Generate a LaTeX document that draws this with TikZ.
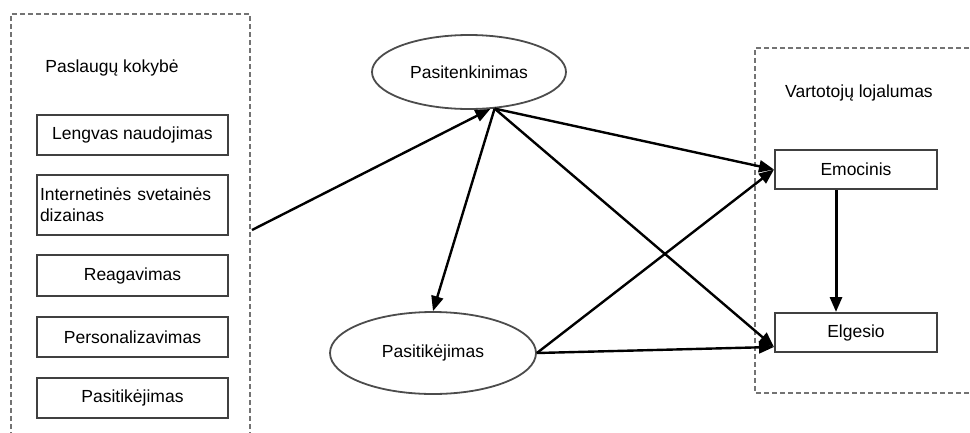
\documentclass[tikz,border=0pt]{standalone}
\usepackage{fontspec}
\setmainfont{Liberation Sans}
\usetikzlibrary{arrows.meta,shapes.geometric}

\begin{document}
\begin{tikzpicture}[x=1pt,y=-1pt,>={Triangle[length=15pt,width=12pt]},
  font=\fontsize{17.5}{21}\selectfont,
  item/.style={draw=black!75,line width=2pt,minimum width=191pt,minimum height=40pt,inner sep=2pt},
  oval/.style={ellipse,draw=black!70,line width=1.8pt,inner sep=0pt},
  frame/.style={draw=black!55,line width=1.4pt,dash pattern=on 5pt off 3pt},
  link/.style={->,line width=2.4pt}]
  \useasboundingbox (0,0) rectangle (970,432);
  \draw[frame] (11,445) -- (11,14) -- (250,14) -- (250,445);
  \draw[frame] (985,48) -- (755,48) -- (755,393) -- (985,393);
  \node (kokybe) at (112,68) {Paslaugų kokybė};
  \node[item] (lengvas) at (132.5,135) {Lengvas naudojimas};
  \node[item,minimum height=60pt,text width=185pt,inner xsep=3pt,align=left] (dizainas) at (132.5,205) {Internetinės svetainės\\dizainas};
  \node[item,minimum height=41pt] (reagavimas) at (132.5,275.5) {Reagavimas};
  \node[item] (personalizavimas) at (132.5,337) {Personalizavimas};
  \node[item] (patikimumas) at (132.5,398) {Pasitikėjimas};
  \coordinate (kokybeout) at (252,230);
  \node[oval,minimum width=194pt,minimum height=74pt] (pasitenkinimas) at (469,72) {Pasitenkinimas};
  \node[oval,minimum width=206pt,minimum height=82pt] (pasitikejimas) at (433,353) {Pasitikėjimas};
  \node (lojalumas) at (859,93) {Vartotojų lojalumas};
  \node[item,minimum width=162pt,minimum height=39pt] (emocinis) at (856,169.5) {Emocinis};
  \node[item,minimum width=162pt,minimum height=39pt] (elgesio) at (856,332.5) {Elgesio};
  \draw[link] (kokybeout) -- (pasitenkinimas.-60);
  \draw[link] (pasitenkinimas.-55) -- (pasitikejimas.north);
  \draw[link] (pasitenkinimas.-55) -- (emocinis.west);
  \draw[link] (pasitenkinimas.-55) -- (elgesio.-170);
  \draw[link] (pasitikejimas.east) -- (emocinis.west);
  \draw[link] (pasitikejimas.east) -- (elgesio.-170);
  \draw[link,line width=3pt] ([xshift=-20pt]emocinis.south) -- ([xshift=-20pt]elgesio.north);
\end{tikzpicture}
\end{document}
